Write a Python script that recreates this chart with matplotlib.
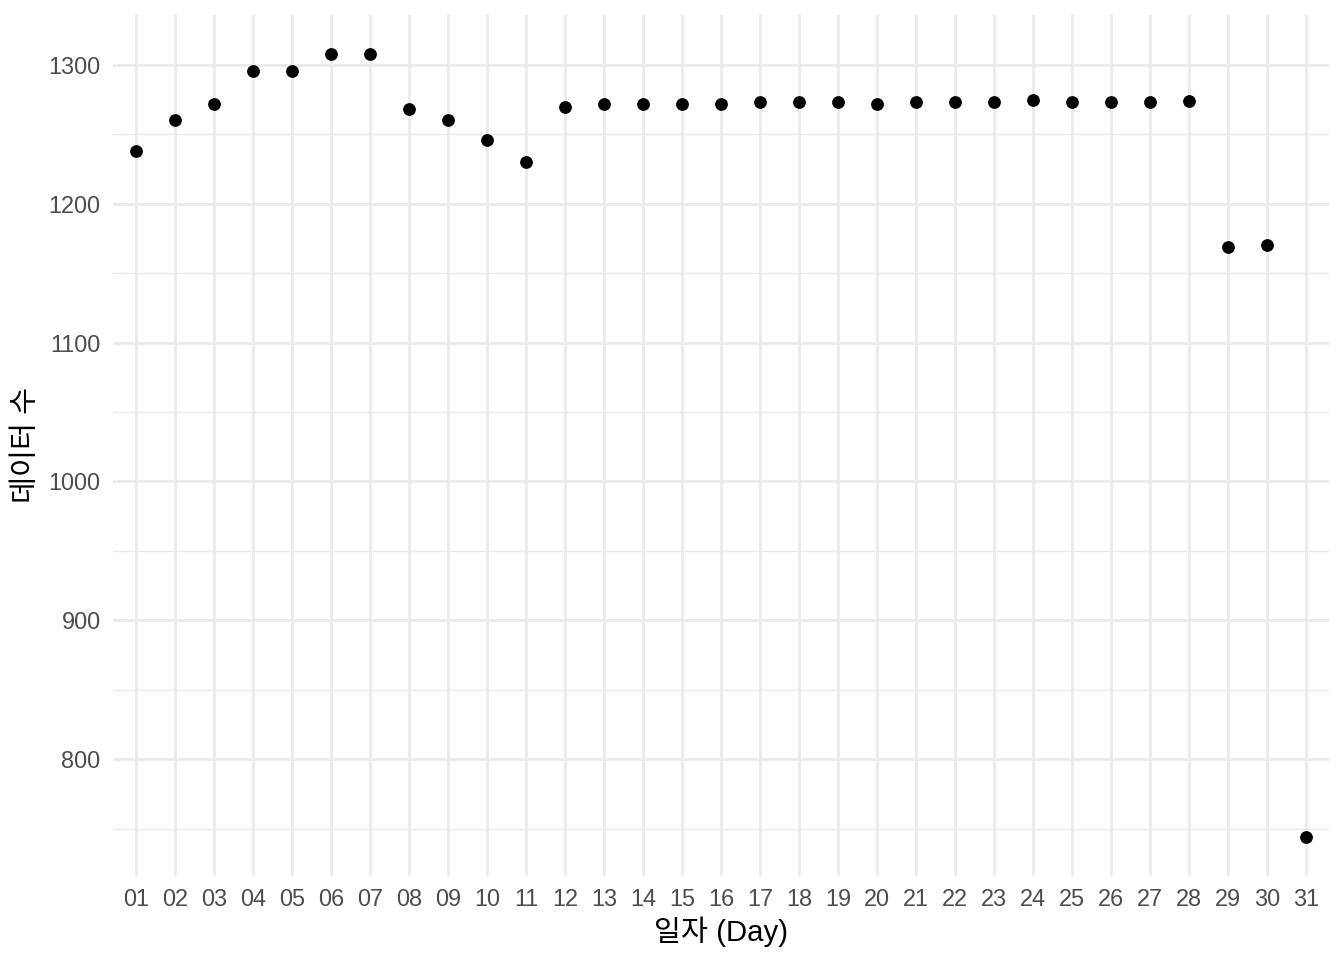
import matplotlib
matplotlib.use("Agg")
import matplotlib.pyplot as plt
from matplotlib.ticker import FixedLocator

days = ["01", "02", "03", "04", "05", "06", "07", "08", "09", "10",
        "11", "12", "13", "14", "15", "16", "17", "18", "19", "20",
        "21", "22", "23", "24", "25", "26", "27", "28", "29", "30", "31"]
counts = [1238, 1260, 1272, 1296, 1296, 1308, 1308, 1268, 1260, 1246,
          1230, 1270, 1272, 1272, 1272, 1272, 1273, 1273, 1273, 1272,
          1273, 1273, 1273, 1275, 1273, 1273, 1273, 1274, 1169, 1170, 744]
y_ticks = [800, 900, 1000, 1100, 1200, 1300]
x_title = "일자 (Day)"
y_title = "데이터 수"

fam = ["Liberation Sans", "DejaVu Sans"]
kfam = ["Liberation Sans", "Noto Sans CJK KR", "DejaVu Sans"]

fig = plt.figure(figsize=(7, 5), dpi=192)
ax = fig.add_axes([112.6 / 1344, 84 / 960, (1329.4 - 112.6) / 1344, (876 - 14.7) / 960])

x = list(range(len(days)))
ax.scatter(x, counts, s=23, color="black", zorder=3, linewidths=0)

lo, hi = min(counts), max(counts)
pad = (hi - lo) * 0.05
ax.set_ylim(lo - pad, hi + pad)
ax.set_xlim(-0.6, len(days) - 1 + 0.6)

ax.set_xticks(x)
ax.set_xticklabels(days)
ax.yaxis.set_major_locator(FixedLocator(y_ticks))
ax.yaxis.set_minor_locator(FixedLocator([t - 50 for t in y_ticks] + [y_ticks[-1] + 50]))

ax.grid(True, which="major", color="#EBEBEB", linewidth=1.07)
ax.grid(True, which="minor", axis="y", color="#EBEBEB", linewidth=0.53)
ax.set_axisbelow(True)
for s in ax.spines.values():
    s.set_visible(False)
ax.tick_params(which="both", length=0, pad=4.5, labelsize=8.8, labelcolor="#4D4D4D")
for lab in ax.get_xticklabels() + ax.get_yticklabels():
    lab.set_family(fam)

ax.set_xlabel(x_title, fontsize=11, family=kfam, color="black", labelpad=2)
ax.set_ylabel(y_title, fontsize=11, family=kfam, color="black", labelpad=3)

fig.savefig("out.png", dpi=192)
